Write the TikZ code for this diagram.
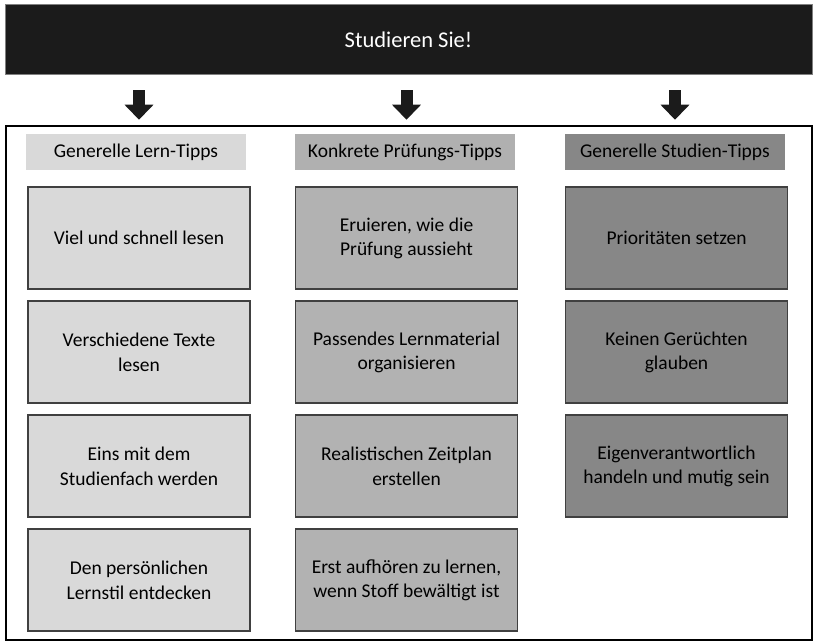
\documentclass[tikz,border=0pt]{standalone}
\usepackage{fontspec}
\setmainfont{Carlito}
\usetikzlibrary{positioning}
\usetikzlibrary{arrows.meta}
\definecolor{schwarz}{RGB}{27, 27, 27}
\definecolor{rand}{RGB}{64, 64, 64}
\definecolor{hell}{RGB}{217, 217, 217}
\definecolor{mittel}{RGB}{176, 176, 176}
\definecolor{dunkel}{RGB}{135, 135, 135}
\newlength{\nodedist}
\setlength{\nodedist}{12pt}
\newlength{\kopfdist}
\setlength{\kopfdist}{17pt}
\tikzset{
  kopf/.style={rectangle, minimum width=220pt, minimum height=36pt, inner sep=0pt, font=\fontsize{19.5}{23}\selectfont},
  tipp/.style={rectangle, draw=rand, line width=1.5pt, outer sep=0pt, minimum width=222pt, minimum height=102pt, inner sep=0pt, align=center, font=\fontsize{19.5}{24.5}\selectfont},
  pfeil/.style={draw=schwarz, line width=12pt, -{Triangle[width=28pt, length=15pt]}, shorten <=15pt, shorten >=5pt}
}

\begin{document}
\begin{tikzpicture}[x=1pt, y=-1pt]
\useasboundingbox (0,0) rectangle (815,642);

\node[rectangle, draw=gray, fill=schwarz, line width=1pt, minimum width=807pt, minimum height=70pt, text=white, font=\fontsize{22.5}{26}\selectfont](top) at (408.5,40){Studieren Sie!};
\node[rectangle, draw=black, line width=2.5pt, minimum width=806pt, minimum height=514pt](rahmen) at (409,383){};

% Generelle Lern-Tipps
\node[kopf, fill=hell](k1) at (136,152){Generelle Lern-Tipps};
\node[tipp, fill=hell](a1)[below=\kopfdist of k1, xshift=3pt]{Viel und schnell lesen};
\node[tipp, fill=hell](a2)[below=\nodedist of a1]{Verschiedene Texte\\lesen};
\node[tipp, fill=hell](a3)[below=\nodedist of a2]{Eins mit dem\\Studienfach werden};
\node[tipp, fill=hell](a4)[below=\nodedist of a3]{Den persönlichen\\Lernstil entdecken};

% Konkrete Prüfungs-Tipps
\node[kopf, fill=mittel](k2) at (405,152){Konkrete Prüfungs-Tipps};
\node[tipp, fill=mittel!97!white](b1)[below=\kopfdist of k2, xshift=1.5pt]{Eruieren, wie die\\Prüfung aussieht};
\node[tipp, fill=mittel!97!white](b2)[below=\nodedist of b1]{Passendes Lernmaterial\\organisieren};
\node[tipp, fill=mittel!97!white](b3)[below=\nodedist of b2]{Realistischen Zeitplan\\erstellen};
\node[tipp, fill=mittel!97!white](b4)[below=\nodedist of b3]{Erst aufhören zu lernen,\\wenn Stoff bewältigt ist};

% Generelle Studien-Tipps
\node[kopf, fill=dunkel](k3) at (675,152){Generelle Studien-Tipps};
\node[tipp, fill=dunkel](c1)[below=\kopfdist of k3, xshift=1.5pt]{Prioritäten setzen};
\node[tipp, fill=dunkel](c2)[below=\nodedist of c1]{Keinen Gerüchten\\glauben};
\node[tipp, fill=dunkel](c3)[below=\nodedist of c2]{Eigenverantwortlich\\handeln und mutig sein};

\draw[pfeil] (top.south -| a1.north) -- (rahmen.north -| a1.north);
\draw[pfeil] (top.south -| b1.north) -- (rahmen.north -| b1.north);
\draw[pfeil] (top.south -| k3.north) -- (rahmen.north -| k3.north);

\end{tikzpicture}
\end{document}
